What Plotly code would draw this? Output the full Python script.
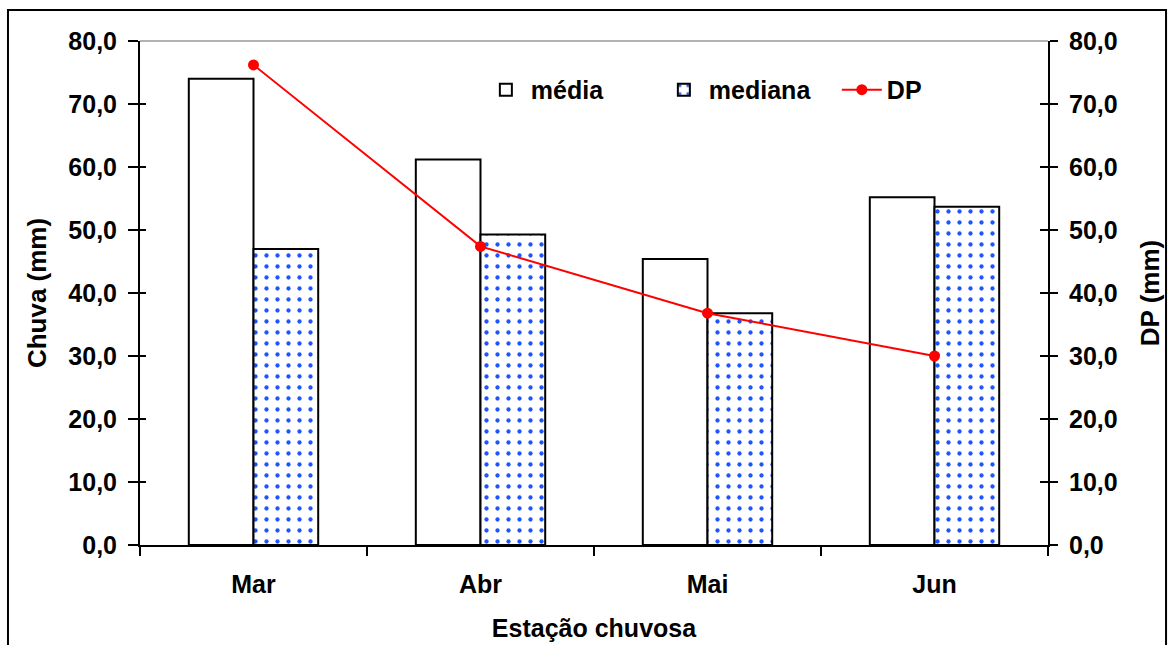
import plotly.graph_objects as go

meses = ["Mar", "Abr", "Mai", "Jun"]
media = [74.0, 61.2, 45.4, 55.2]
mediana = [47.0, 49.3, 36.8, 53.7]
dp = [76.2, 47.4, 36.8, 30.0]

FONT = "Liberation Sans, Arial, sans-serif"
BLUE = "#1f55ff"
FS = 25

fig = go.Figure()
fig.add_trace(go.Bar(
    x=meses, y=media, name="<b>média</b>",
    marker=dict(color="white", line=dict(color="black", width=2)),
))
fig.add_trace(go.Bar(
    x=meses, y=mediana, name="<b>mediana</b>",
    marker=dict(color="white", line=dict(color="black", width=2),
                pattern=dict(shape=".", fgcolor=BLUE, bgcolor="white", fgopacity=1,
                             size=11, solidity=0.12)),
))
fig.add_trace(go.Scatter(
    x=meses, y=dp, name="<b>DP</b>", yaxis="y2", mode="lines+markers",
    line=dict(color="#ff0000", width=2),
    marker=dict(color="#ff0000", size=11),
))

tickfont = dict(family=FONT, size=FS, color="black")
common_y = dict(range=[0, 80], dtick=10, tickformat=".1f", showgrid=False,
                zeroline=False, showline=True, linecolor="black", linewidth=2,
                tickcolor="black", tickwidth=2, ticks="outside", tickfont=tickfont,
                tickprefix="<b>", ticksuffix="</b>", ticklabelstandoff=6,
                automargin=False)

fig.update_layout(
    width=1169, height=645,
    margin=dict(l=140, r=121, t=41, b=100),
    paper_bgcolor="white", plot_bgcolor="white",
    separators=",.",
    barmode="group", bargap=0.43, bargroupgap=0,
    font=dict(family=FONT, size=FS, color="black"),
    xaxis=dict(
        tickson="boundaries", ticks="outside", ticklen=9, tickwidth=2,
        tickcolor="black", showline=True, linecolor="black", linewidth=2,
        showgrid=False, tickfont=tickfont, tickprefix="<b>", ticksuffix="</b>",
        ticklabelstandoff=16, automargin=False,
        title=dict(text="<b>Estação chuvosa</b>", font=dict(size=FS), standoff=22),
    ),
    yaxis=dict(**common_y, ticklen=10,
               title=dict(text="<b>Chuva (mm)</b>", font=dict(size=26), standoff=14)),
    yaxis2=dict(**common_y, ticklen=8, overlaying="y", side="right",
                title=dict(text="<b>DP (mm)</b>", font=dict(size=26), standoff=24)),
    yaxis3=dict(range=[0, 80], dtick=10, overlaying="y", side="left",
                ticks="inside", ticklen=6, tickwidth=2, tickcolor="black",
                showticklabels=False, showgrid=False, zeroline=False, showline=False,
                automargin=False),
    yaxis4=dict(range=[0, 80], dtick=10, overlaying="y", side="right",
                ticks="inside", ticklen=8, tickwidth=2, tickcolor="black",
                showticklabels=False, showgrid=False, zeroline=False, showline=False,
                automargin=False),
    legend=dict(orientation="h", x=0.3754, y=0.903, xanchor="left", yanchor="middle",
                font=dict(family=FONT, size=FS, color="black"),
                bgcolor="rgba(0,0,0,0)", itemwidth=40, entrywidth=123,
                tracegroupgap=0),
    showlegend=True,
)

# outer frame and top edge of the plot area
fig.add_shape(type="rect", xref="paper", yref="paper",
              x0=-0.1454, x1=1.1300, y0=-0.35, y1=1.0615,
              line=dict(color="black", width=2), fillcolor="rgba(0,0,0,0)", layer="below")
fig.add_shape(type="line", xref="paper", yref="paper", x0=0, x1=1, y0=1, y1=1,
              line=dict(color="#999999", width=1.5))

# invisible traces so the overlay tick axes render
fig.add_trace(go.Scatter(x=meses, y=dp, yaxis="y3", mode="none", showlegend=False, hoverinfo="skip"))
fig.add_trace(go.Scatter(x=meses, y=dp, yaxis="y4", mode="none", showlegend=False, hoverinfo="skip"))

fig.write_html("out.html")
